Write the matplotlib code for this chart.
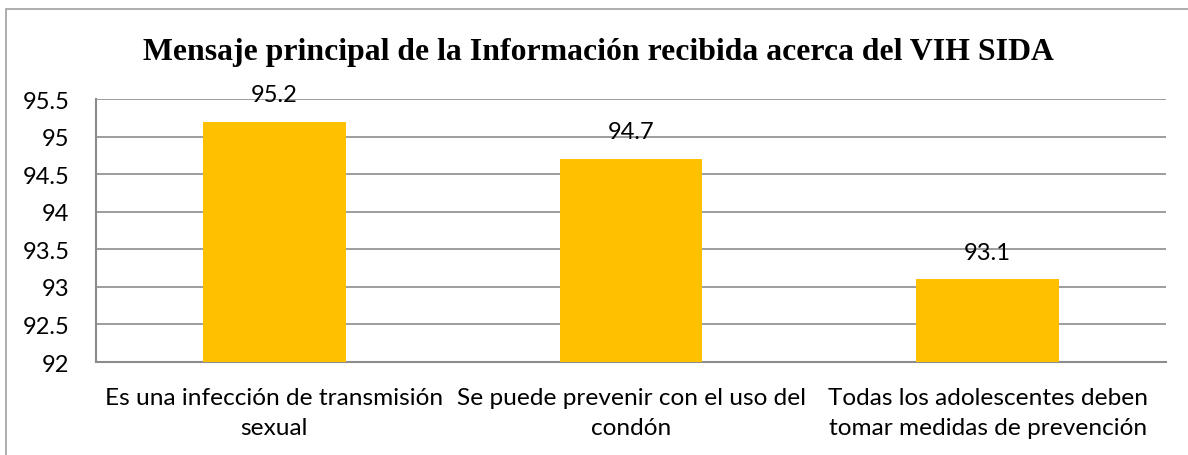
import matplotlib
matplotlib.use("Agg")
import matplotlib.pyplot as plt
from matplotlib.patches import Rectangle

# Data
categories = [
    "Es una infección de transmisión\nsexual",
    "Se puede prevenir con el uso del\ncondón",
    "Todas los adolescentes deben\ntomar medidas de prevención",
]
values = [95.2, 94.7, 93.1]
y_ticks = [92, 92.5, 93, 93.5, 94, 94.5, 95, 95.5]
y_tick_labels = ["92", "92.5", "93", "93.5", "94", "94.5", "95", "95.5"]
title = "Mensaje principal de la Información recibida acerca del VIH SIDA"

BAR_COLOR = "#FFC000"
GRID_COLOR = "#8C8C8C"
TEXT_FONT = "Lato"


def main():
    fig = plt.figure(figsize=(11.88, 4.56), dpi=100)
    ax = fig.add_axes([0.0808, 0.2039, 0.9007, 0.5768])

    x = list(range(len(categories)))
    ax.bar(x, values, width=0.4, color=BAR_COLOR, zorder=3)

    # value labels above each bar
    for xi, v in zip(x, values):
        ax.annotate(f"{v}", (xi, v), xytext=(0, 12), textcoords="offset points",
                    ha="center", va="bottom", fontsize=17,
                    family=TEXT_FONT, color="#000000", zorder=4)

    ax.set_xlim(-0.5, len(categories) - 0.5)
    ax.set_ylim(92, 95.5)
    ax.set_yticks(y_ticks)
    ax.set_yticklabels(y_tick_labels, fontsize=17, family=TEXT_FONT)
    ax.set_xticks(x)
    ax.set_xticklabels(categories, fontsize=17.6, family=TEXT_FONT,
                       linespacing=1.5)
    ax.tick_params(axis="y", length=0, pad=19)
    ax.tick_params(axis="x", length=0, pad=18)

    ax.yaxis.grid(True, color=GRID_COLOR, linewidth=1.2, zorder=0)
    ax.set_axisbelow(True)
    for side in ["top", "right"]:
        ax.spines[side].set_visible(False)
    for side in ["left", "bottom"]:
        ax.spines[side].set_color(GRID_COLOR)
        ax.spines[side].set_linewidth(1.5)

    fig.text(0.504, 0.885, title, ha="center", va="center",
             fontsize=22.9, fontweight="bold", family="Liberation Serif")

    # outer chart border (right and bottom fall outside the picture)
    fig.patches.append(Rectangle((6 / 1188, -0.05), 1.05, 0.05 + 1 - 10 / 456,
                                 transform=fig.transFigure, fill=False,
                                 edgecolor="#A0A0A0", linewidth=1.2))

    fig.savefig("out.png", dpi=100, facecolor="white")


if __name__ == "__main__":
    main()
